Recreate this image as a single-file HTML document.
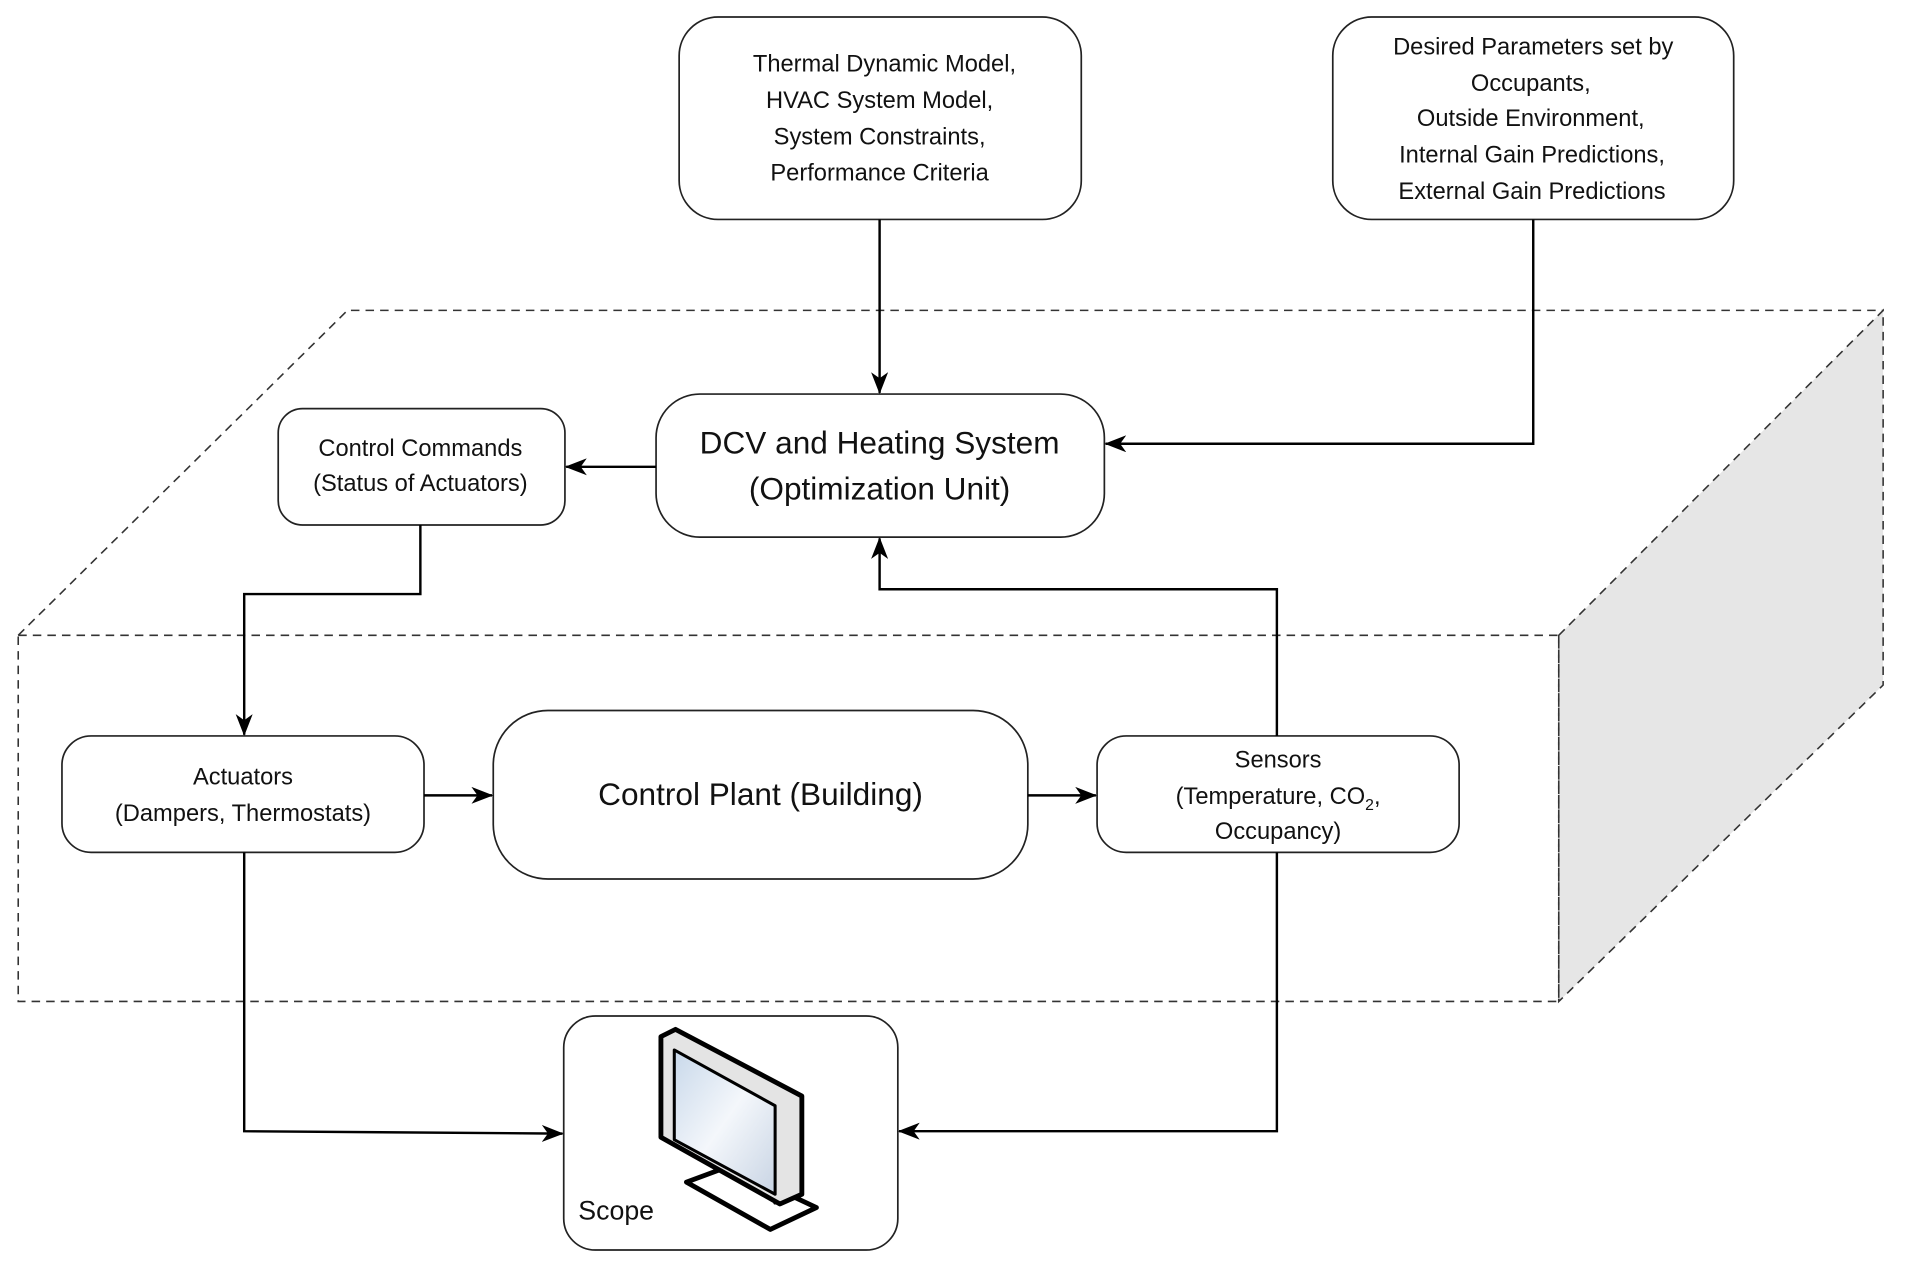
<!DOCTYPE html>
<html><head><meta charset="utf-8"><style>
html,body{margin:0;padding:0;background:#fff}
svg{display:block}
text{font-family:"Liberation Sans",sans-serif;fill:#111}
</style></head><body>
<svg width="1905" height="1267" viewBox="0 0 1568 1045" preserveAspectRatio="none" xmlns="http://www.w3.org/2000/svg">
<defs>
<marker id="a" markerWidth="18" markerHeight="14" refX="17" refY="7" orient="auto" markerUnits="userSpaceOnUse" viewBox="0 0 18 14">
<path d="M0,0 L18,7 L0,14 L5,7 Z" fill="#000"/></marker>
<linearGradient id="scr" x1="0" y1="0" x2="1" y2="1"><stop offset="0" stop-color="#c8d8ea"/><stop offset="0.5" stop-color="#f4f7fb"/><stop offset="1" stop-color="#c8d4e4"/></linearGradient>
</defs>
<polygon points="1283,524 1550,256 1550,565 1283,826" fill="#e6e6e6" stroke="#333" stroke-width="1.3" stroke-dasharray="7,5"/>
<polyline points="15,524 286,256 1550,256" fill="none" stroke="#333" stroke-width="1.3" stroke-dasharray="7,5"/>
<rect x="15" y="524" width="1268" height="302" fill="none" stroke="#333" stroke-width="1.3" stroke-dasharray="7,5"/>

<g fill="#fff" stroke="#222" stroke-width="1.4">
<rect x="559" y="14" width="331" height="167" rx="32"/>
<rect x="1097" y="14" width="330" height="167" rx="32"/>
<rect x="540" y="325" width="369" height="118" rx="36"/>
<rect x="229" y="337" width="236" height="96" rx="20"/>
<rect x="51" y="607" width="298" height="96" rx="24"/>
<rect x="406" y="586" width="440" height="139" rx="45"/>
<rect x="903" y="607" width="298" height="96" rx="24"/>
<rect x="464" y="838" width="275" height="193" rx="26"/>
</g>

<g fill="none" stroke="#000" stroke-width="2" marker-end="url(#a)">
<path d="M724,181 V324"/>
<path d="M1262,181 V366 H910"/>
<path d="M540,385 H466"/>
<path d="M346,433 V490 H201 V606"/>
<path d="M349,656 H405"/>
<path d="M846,656 H902"/>
<path d="M1051,607 V486 H724 V444"/>
<path d="M201,703 V933 L463,935"/>
<path d="M1051,703 V933 H740"/>
</g>

<g font-size="19.5" text-anchor="middle">
<text x="728" y="59">Thermal Dynamic Model,</text>
<text x="724" y="89">HVAC System Model,</text>
<text x="724" y="119">System Constraints,</text>
<text x="724" y="149">Performance Criteria</text>
<text x="1262" y="45">Desired Parameters set by</text>
<text x="1260" y="75">Occupants,</text>
<text x="1260" y="104">Outside Environment,</text>
<text x="1261" y="134">Internal Gain Predictions,</text>
<text x="1261" y="164">External Gain Predictions</text>
<text x="346" y="376">Control Commands</text>
<text x="346" y="405">(Status of Actuators)</text>
<text x="200" y="647">Actuators</text>
<text x="200" y="677">(Dampers, Thermostats)</text>
<text x="1052" y="633">Sensors</text>
<text x="1052" y="663">(Temperature, CO<tspan font-size="13" dy="5">2</tspan><tspan dy="-5">,</tspan></text>
<text x="1052" y="692">Occupancy)</text>
</g>
<g font-size="26" text-anchor="middle">
<text x="724" y="374">DCV and Heating System</text>
<text x="724" y="412">(Optimization Unit)</text>
<text x="626" y="664">Control Plant (Building)</text>
</g>
<text x="476" y="1006" font-size="22">Scope</text>

<g stroke="#000" stroke-linejoin="round">
<polygon points="565,975 600,962 672,996 634,1014" fill="#fff" stroke-width="4"/>
<polygon points="638,992 660,982 660,908 638,918" fill="#d0d0d0" stroke-width="3"/>
<polygon points="544,855 556,849 660,904 660,985 642,993 544,938" fill="#e4e4e4" stroke-width="4"/>
<polygon points="555,866 638,912 638,985 555,940" fill="url(#scr)" stroke-width="2.5"/>
</g>
</svg>
</body></html>
